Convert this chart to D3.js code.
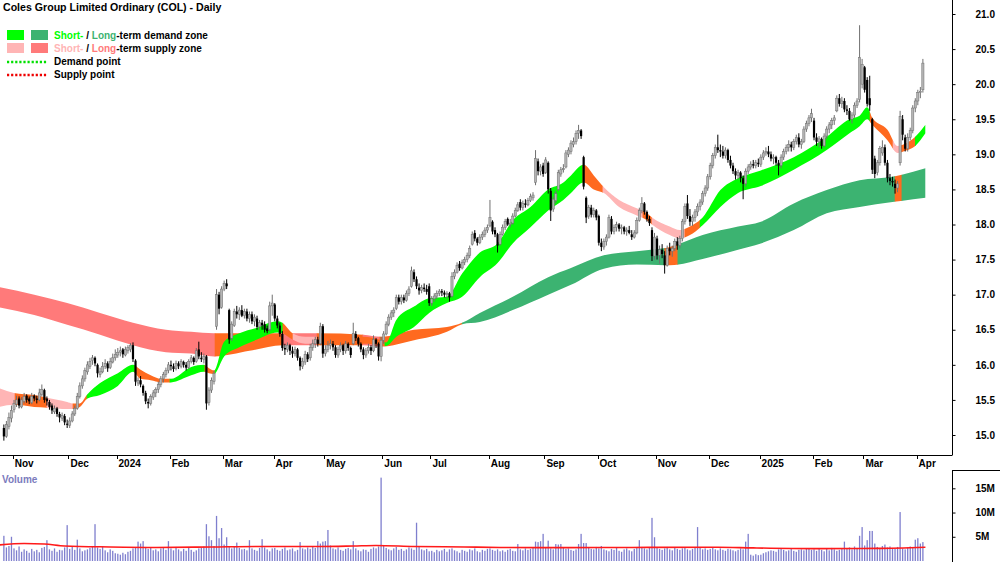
<!DOCTYPE html>
<html>
<head>
<meta charset="utf-8">
<script src="https://cdn.jsdelivr.net/npm/d3@7"></script>
<style>
  body { margin: 0; background: #fff; }
  svg { display: block; font-family: "Liberation Sans", Arial, sans-serif; }
</style>
</head>
<body>
<div id="chart"></div>
<script>
// daily bars [open, high, low, close], one list per month
var oct23 = [[15.10,15.15,14.92,14.98],[14.98,15.20,14.96,15.15],[15.12,15.32,15.08,15.25],[15.24,15.42,15.18,15.35]];
var nov23 = [[15.36,15.50,15.32,15.45],[15.44,15.56,15.40,15.50],[15.52,15.55,15.38,15.42],[15.40,15.54,15.38,15.50],[15.48,15.60,15.45,15.55],
  [15.56,15.58,15.46,15.50],[15.52,15.55,15.44,15.48],[15.46,15.60,15.44,15.55],[15.56,15.58,15.48,15.52],[15.52,15.56,15.45,15.50],
  [15.50,15.66,15.48,15.60],[15.58,15.72,15.55,15.65],[15.64,15.66,15.46,15.50],[15.52,15.55,15.42,15.48],[15.47,15.50,15.36,15.40],
  [15.42,15.45,15.30,15.35],[15.33,15.42,15.30,15.38],[15.38,15.40,15.26,15.30],[15.30,15.33,15.18,15.25],[15.24,15.32,15.20,15.28],
  [15.27,15.30,15.14,15.18],[15.16,15.22,15.10,15.15]];
var dec23 = [[15.14,15.25,15.10,15.20],[15.20,15.34,15.18,15.30],[15.30,15.42,15.27,15.38],[15.38,15.60,15.36,15.55],[15.55,15.75,15.52,15.70],
  [15.70,15.85,15.66,15.80],[15.80,15.96,15.76,15.92],[15.90,16.05,15.86,16.00],[15.98,16.10,15.94,16.05],[16.06,16.14,16.00,16.10],
  [16.10,16.12,15.98,16.02],[16.00,16.02,15.82,15.88],[15.86,15.96,15.82,15.90],[15.90,16.04,15.88,15.98],[15.98,16.08,15.94,16.02],
  [16.02,16.05,15.90,15.95],[15.96,16.10,15.94,16.05],[16.04,16.16,16.02,16.10],[16.10,16.22,16.06,16.15]];
var jan24 = [[16.14,16.24,16.10,16.18],[16.18,16.26,16.12,16.20],[16.22,16.24,16.10,16.15],[16.14,16.26,16.12,16.22],[16.20,16.28,16.16,16.25],
  [16.22,16.31,16.18,16.28],[16.28,16.32,16.04,16.08],[16.06,16.08,15.70,15.76],[15.74,15.82,15.70,15.78],[15.78,15.84,15.68,15.72],
  [15.70,15.72,15.56,15.60],[15.60,15.63,15.44,15.48],[15.47,15.52,15.38,15.45],[15.45,15.58,15.42,15.55],[15.54,15.64,15.50,15.60],
  [15.60,15.68,15.54,15.65],[15.65,15.76,15.60,15.72],[15.72,15.84,15.68,15.80],[15.80,15.90,15.75,15.86],[15.86,15.96,15.82,15.92],
  [15.92,16.04,15.88,16.00]];
var feb24 = [[16.00,16.06,15.92,15.98],[15.98,16.02,15.90,15.94],[15.95,16.06,15.92,16.02],[16.02,16.05,15.94,15.98],[15.98,16.08,15.95,16.05],
  [16.04,16.06,15.96,16.00],[16.00,16.04,15.92,15.96],[15.96,16.08,15.94,16.05],[16.05,16.14,16.02,16.10],[16.10,16.12,16.00,16.04],
  [16.05,16.24,16.03,16.20],[16.22,16.33,16.08,16.12],[16.10,16.18,16.04,16.08],[16.08,16.16,16.02,16.12],[16.12,16.14,15.36,15.45],
  [15.46,15.68,15.42,15.64],[15.64,15.82,15.60,15.78],[15.76,15.92,15.72,15.88],[16.55,17.08,16.50,17.00],[17.00,17.04,16.72,16.80],
  [16.82,17.12,16.80,17.08]];
var mar24 = [[17.08,17.20,17.05,17.16],[17.16,17.22,17.08,17.12],[16.78,16.80,16.30,16.36],[16.38,16.62,16.34,16.58],[16.56,16.80,16.54,16.76],
  [16.76,16.84,16.66,16.72],[16.72,16.82,16.64,16.78],[16.78,16.85,16.68,16.70],[16.70,16.80,16.66,16.76],[16.76,16.80,16.62,16.66],
  [16.66,16.76,16.60,16.72],[16.72,16.76,16.58,16.62],[16.62,16.72,16.55,16.68],[16.66,16.70,16.50,16.54],[16.54,16.64,16.50,16.60],
  [16.60,16.64,16.50,16.56],[16.58,16.62,16.46,16.50],[16.52,16.56,16.45,16.48],[16.50,16.90,16.48,16.84],[16.84,17.00,16.70,16.88]];
var apr24 = [[16.86,16.88,16.62,16.66],[16.66,16.70,16.52,16.56],[16.56,16.60,16.40,16.44],[16.44,16.48,16.20,16.24],[16.24,16.30,16.14,16.22],
  [16.22,16.32,16.18,16.28],[16.28,16.30,16.14,16.20],[16.20,16.26,16.10,16.16],[16.16,16.26,16.12,16.22],[16.22,16.24,16.06,16.10],
  [16.10,16.12,15.92,15.98],[15.98,16.10,15.94,16.05],[16.04,16.20,16.00,16.15],[16.15,16.18,16.04,16.08],[16.10,16.30,16.06,16.25],
  [16.25,16.36,16.20,16.30],[16.30,16.40,16.24,16.36],[16.36,16.40,16.26,16.30],[16.30,16.60,16.28,16.55],[16.55,16.58,16.10,16.16]];
var may24 = [[16.16,16.28,16.12,16.22],[16.22,16.34,16.18,16.28],[16.28,16.36,16.22,16.30],[16.30,16.34,16.20,16.25],[16.25,16.28,16.10,16.14],
  [16.14,16.26,16.10,16.22],[16.22,16.32,16.18,16.28],[16.28,16.30,16.14,16.20],[16.20,16.34,16.16,16.30],[16.30,16.32,16.20,16.24],
  [16.24,16.26,16.10,16.14],[16.30,16.60,16.28,16.45],[16.44,16.48,16.34,16.38],[16.38,16.40,16.26,16.30],[16.30,16.32,16.18,16.22],
  [16.22,16.25,16.08,16.14],[16.14,16.24,16.10,16.20],[16.20,16.30,16.16,16.25],[16.25,16.28,16.14,16.20],[16.20,16.42,16.18,16.36],
  [16.36,16.38,16.24,16.30],[16.30,16.32,16.06,16.12],[16.12,16.40,16.05,16.35]];
var jun24 = [[16.35,16.48,16.30,16.44],[16.44,16.62,16.42,16.58],[16.58,16.72,16.55,16.68],[16.68,16.78,16.64,16.74],[16.74,16.82,16.68,16.78],
  [16.80,17.00,16.78,16.96],[16.96,17.00,16.86,16.90],[16.90,17.00,16.86,16.96],[16.96,17.00,16.88,16.92],[16.92,17.06,16.90,17.02],
  [17.02,17.12,16.98,17.08],[17.12,17.40,17.10,17.34],[17.32,17.36,17.18,17.22],[17.22,17.26,17.08,17.12],[17.10,17.16,17.00,17.06],
  [17.06,17.14,17.02,17.10],[17.10,17.16,17.04,17.08],[17.08,17.14,17.00,17.04],[17.12,17.16,16.84,16.88]];
var jul24 = [[16.88,16.98,16.84,16.94],[16.94,17.02,16.90,16.98],[16.98,17.06,16.94,17.02],[17.02,17.08,16.98,17.05],[17.05,17.08,16.98,17.03],
  [17.03,17.06,16.96,17.00],[17.00,17.05,16.94,17.02],[17.02,17.04,16.90,16.96],[16.98,17.32,16.96,17.26],[17.26,17.36,17.22,17.32],
  [17.32,17.46,17.30,17.42],[17.44,17.48,17.34,17.38],[17.38,17.50,17.36,17.46],[17.46,17.54,17.42,17.50],[17.50,17.60,17.46,17.56],
  [17.56,17.70,17.52,17.66],[17.72,17.90,17.70,17.86],[17.88,17.92,17.76,17.80],[17.80,17.82,17.70,17.74],[17.74,17.86,17.72,17.82],
  [17.82,17.90,17.78,17.86],[17.86,17.96,17.82,17.92],[17.92,18.00,17.88,17.96]];
var aug24 = [[17.98,18.35,17.96,18.10],[18.04,18.06,17.86,17.90],[17.92,17.96,17.82,17.86],[17.86,17.88,17.60,17.70],[17.72,17.90,17.70,17.86],
  [17.86,18.00,17.84,17.96],[17.96,18.08,17.92,18.04],[18.08,18.10,17.98,18.00],[18.00,18.08,17.96,18.02],[18.02,18.16,18.00,18.12],
  [18.12,18.24,18.10,18.20],[18.20,18.32,18.18,18.28],[18.32,18.36,18.20,18.24],[18.24,18.34,18.20,18.30],[18.30,18.36,18.24,18.28],
  [18.28,18.38,18.26,18.34],[18.34,18.44,18.32,18.40],[18.38,18.46,18.34,18.42],[18.60,19.06,18.56,18.94],[18.90,18.94,18.70,18.76],
  [18.76,18.86,18.70,18.82],[18.84,18.88,18.68,18.72]];
var sep24 = [[18.74,18.96,18.72,18.92],[18.88,18.90,18.44,18.50],[18.48,18.52,18.05,18.20],[18.22,18.40,18.18,18.36],[18.34,18.48,18.30,18.44],
  [18.50,18.78,18.48,18.74],[18.72,18.82,18.68,18.78],[18.78,18.86,18.74,18.80],[18.82,19.06,18.80,19.02],[19.00,19.10,18.96,19.06],
  [19.04,19.20,19.00,19.16],[19.14,19.24,19.10,19.18],[19.18,19.34,19.14,19.30],[19.30,19.42,19.22,19.34],[19.34,19.36,19.22,19.26],
  [18.96,18.98,18.50,18.54],[18.38,18.40,18.02,18.10],[18.12,18.28,18.08,18.24],[18.24,18.28,18.10,18.14],[18.14,18.24,18.10,18.20],
  [18.20,18.22,18.06,18.10]];
var oct24 = [[18.12,18.14,17.70,17.74],[17.74,17.80,17.62,17.68],[17.68,17.80,17.64,17.76],[17.76,17.86,17.70,17.82],[17.82,18.14,17.80,18.10],
  [18.08,18.12,17.86,17.90],[17.90,18.00,17.86,17.96],[17.96,18.04,17.90,18.00],[18.00,18.02,17.90,17.94],[17.94,18.00,17.86,17.96],
  [17.96,17.98,17.86,17.90],[17.90,17.96,17.84,17.92],[17.92,17.98,17.86,17.88],[17.86,17.92,17.78,17.82],[17.82,17.92,17.80,17.88],
  [17.88,18.10,17.86,18.06],[18.06,18.24,18.04,18.20],[18.20,18.39,18.16,18.30],[18.30,18.32,18.14,18.18],[18.18,18.20,18.04,18.08],
  [18.08,18.12,17.98,18.02],[17.92,17.96,17.48,17.55],[17.55,17.88,17.50,17.82]];
var nov24 = [[17.80,17.84,17.50,17.56],[17.56,17.70,17.44,17.64],[17.64,17.72,17.52,17.58],[17.56,17.62,17.30,17.42],[17.42,17.70,17.40,17.66],
  [17.66,17.74,17.56,17.62],[17.62,17.70,17.54,17.66],[17.66,17.80,17.62,17.76],[17.76,17.82,17.64,17.70],[17.70,17.84,17.66,17.80],
  [17.80,18.08,17.76,18.04],[18.04,18.30,18.00,18.26],[18.30,18.42,18.08,18.12],[18.12,18.22,17.98,18.04],[18.04,18.14,17.98,18.10],
  [18.10,18.22,18.04,18.18],[18.18,18.30,18.12,18.26],[18.26,18.36,18.20,18.32],[18.32,18.48,18.28,18.44],[18.44,18.56,18.40,18.52],
  [18.52,18.72,18.48,18.68]];
var dec24 = [[18.68,18.88,18.64,18.84],[18.84,19.02,18.80,18.98],[18.98,19.14,18.94,19.10],[19.10,19.28,19.02,19.06],[19.06,19.14,18.96,19.04],
  [19.04,19.12,18.94,18.98],[18.98,19.10,18.94,19.06],[19.06,19.08,18.88,18.92],[18.92,18.98,18.80,18.84],[18.84,18.88,18.72,18.76],
  [18.76,18.80,18.64,18.70],[18.70,18.78,18.64,18.74],[18.74,18.76,18.60,18.66],[18.66,18.70,18.36,18.58],[18.58,18.80,18.54,18.76],
  [18.76,18.86,18.72,18.82],[18.82,18.90,18.78,18.86],[18.86,18.92,18.80,18.84],[18.84,18.92,18.80,18.88],[18.88,18.94,18.82,18.86]];
var jan25 = [[18.86,19.00,18.82,18.96],[18.96,19.06,18.92,19.02],[19.02,19.10,18.98,19.04],[19.04,19.12,18.96,19.00],[19.00,19.04,18.90,18.94],
  [18.94,19.00,18.86,18.96],[18.96,18.98,18.84,18.88],[18.88,18.92,18.70,18.84],[18.84,19.00,18.80,18.96],[18.96,19.08,18.92,19.04],
  [19.04,19.14,19.00,19.10],[19.10,19.20,19.04,19.14],[19.14,19.18,19.04,19.10],[19.10,19.22,19.06,19.18],[19.18,19.28,19.14,19.24],
  [19.24,19.30,19.10,19.14],[19.14,19.22,19.08,19.18],[19.18,19.40,19.16,19.36],[19.36,19.48,19.32,19.44],[19.44,19.56,19.40,19.52],
  [19.52,19.65,19.46,19.58]];
var feb25 = [[19.48,19.52,19.20,19.24],[19.24,19.30,19.12,19.18],[19.18,19.26,19.10,19.22],[19.22,19.24,19.08,19.12],[19.12,19.30,19.10,19.26],
  [19.26,19.40,19.22,19.36],[19.36,19.46,19.30,19.42],[19.42,19.52,19.36,19.48],[19.48,19.56,19.42,19.52],[19.62,19.84,19.60,19.80],
  [19.80,19.86,19.68,19.72],[19.72,19.82,19.66,19.76],[19.76,19.80,19.60,19.64],[19.64,19.70,19.56,19.62],[19.62,19.66,19.48,19.50],
  [19.50,19.60,19.44,19.56],[19.56,19.74,19.52,19.70],[19.70,19.80,19.66,19.76],[19.78,20.84,19.74,20.38],[20.00,20.36,19.94,20.28]];
var mar25 = [[20.24,20.26,19.88,19.92],[20.06,20.10,19.68,19.72],[19.80,20.12,19.62,19.70],[19.50,19.52,18.72,18.78],[18.94,18.98,18.66,18.72],
  [18.74,18.92,18.70,18.88],[18.88,19.12,18.84,19.08],[19.02,19.20,18.98,19.10],[19.10,19.14,18.84,18.88],[18.88,18.92,18.60,18.66],
  [18.66,18.72,18.56,18.62],[18.62,18.68,18.54,18.60],[18.58,18.64,18.44,18.52],[18.52,18.62,18.46,18.58],[18.88,19.62,18.84,19.54],
  [19.50,19.56,19.20,19.28],[19.24,19.28,19.04,19.08],[19.08,19.30,19.04,19.24],[19.24,19.38,19.20,19.34],[19.34,19.70,19.30,19.66],
  [19.66,19.80,19.60,19.76]];
var apr25 = [[19.76,19.92,19.70,19.88],[19.88,19.96,19.80,19.90],[19.92,20.36,19.88,20.30]];

// daily volume, millions
var volumes = [
  5.2,2.8,3.1,5.0,
  2.6,2.2,3.0,1.9,2.4,2.1,1.7,2.5,2.0,2.3,1.8,2.7,2.9,4.3,2.4,2.1,2.6,1.9,2.3,2.2,2.8,7.4,
  2.5,2.9,2.3,4.4,2.6,2.0,2.2,2.4,2.7,3.1,7.6,2.8,2.5,3.0,2.2,1.8,2.4,2.1,1.6,
  1.5,1.3,1.7,1.4,1.9,2.1,2.6,2.8,4.0,3.6,4.1,2.9,2.5,2.7,2.2,2.4,2.0,2.6,2.8,2.3,4.1,
  2.6,2.2,2.9,2.4,2.0,2.5,2.1,2.7,2.3,1.9,2.2,2.6,2.8,3.0,7.6,5.1,4.3,3.1,9.3,4.7,6.8,
  3.4,4.9,3.0,2.6,2.9,3.8,2.7,2.4,2.5,2.2,4.3,2.6,2.3,2.1,2.7,4.5,2.8,2.4,2.0,2.6,
  2.7,2.3,2.1,2.5,2.8,2.2,2.4,2.6,2.0,2.3,3.9,2.6,2.4,2.8,2.5,2.9,2.7,4.1,3.6,4.0,
  4.1,6.4,3.2,2.6,2.4,2.8,2.3,2.1,2.5,2.7,2.4,4.1,2.6,2.2,2.0,2.4,2.3,1.9,2.5,2.8,2.6,3.0,17.2,
  3.1,2.7,2.4,2.2,2.6,2.9,2.3,2.5,2.1,2.4,2.8,2.6,2.3,7.9,3.0,2.4,2.2,2.5,2.0,
  2.1,1.8,2.3,2.0,2.2,2.5,1.9,2.4,2.6,2.2,2.0,1.7,2.3,2.1,1.9,2.4,2.2,2.6,2.0,1.8,2.3,2.1,2.5,
  2.6,2.3,2.1,2.4,2.0,2.2,1.9,2.3,2.5,2.1,2.0,3.5,2.4,2.2,2.6,2.3,2.5,2.7,4.0,3.9,4.1,5.6,
  2.9,4.2,2.6,2.4,3.5,3.4,3.5,2.7,2.5,2.6,2.3,2.1,2.4,3.5,5.6,3.7,3.7,2.8,2.5,2.4,2.9,
  2.6,3.1,2.4,2.2,2.0,2.5,2.3,2.7,2.1,1.9,2.4,2.6,2.2,2.0,2.5,2.8,4.3,2.9,2.6,2.4,2.7,8.9,4.9,
  2.8,2.5,2.3,2.6,2.9,2.4,2.2,2.7,2.5,2.3,2.6,2.8,2.4,2.2,2.5,2.9,7.0,2.7,2.4,2.6,2.3,
  2.5,2.8,2.4,2.2,2.6,2.3,2.1,2.5,2.4,2.2,2.0,2.3,2.6,2.4,4.0,5.6,1.3,1.1,1.4,1.2,
  1.3,1.6,1.8,2.0,2.2,2.1,1.9,2.4,2.6,2.3,2.0,2.2,2.5,2.1,1.9,2.3,2.4,2.2,2.6,2.5,2.3,
  2.4,2.1,2.6,2.3,2.0,2.5,2.2,2.7,2.4,2.1,2.3,2.6,4.0,2.5,2.8,2.4,3.0,2.7,5.2,7.0,
  3.2,4.3,6.2,6.2,3.6,2.9,2.6,3.1,3.4,2.8,3.0,2.7,2.5,2.9,10.1,2.6,2.4,2.8,3.0,2.7,4.4,
  4.7,3.6,3.9
];

// volume moving average, read at trading-day positions
var volMaIdx = [-2, 8, 16, 24, 42, 60, 82, 100, 125, 138, 147, 162, 182, 196, 222, 248, 282, 296, 320, 345, 364];
var volMa    = [3.3, 3.6, 3.5, 3.1, 2.9, 2.8, 2.9, 3.0, 3.0, 3.1, 3.2, 3.0, 2.9, 2.8, 2.75, 2.8, 2.85, 2.7, 2.55, 2.6, 2.85];

// short-term zone edges at trading-day positions
var stIdx = [-2,4,12,17,25,27,30,33,38,45, 51,54,58,62,66,74,79,81,83,87, 93,100,108,110,114,119,124,133,142,149,
  151,155,162,168,175,181,188,195,201,208, 215,221,224,229,233,237,243,250,254,256, 263,267,271,276,283,290,299,312,325,334,
  338,341,343,349,353,356,360,364];
var stHi = [15.67,15.60,15.57,15.53,15.47,15.45,15.45,15.58,15.74,15.88, 16.00,15.93,15.85,15.80,15.80,15.97,16.00,15.95,15.92,16.33,
  16.45,16.53,16.62,16.60,16.45,16.40,16.40,16.40,16.40,16.35, 16.32,16.64,16.83,16.95,16.97,17.30,17.60,17.73,18.06,18.25,
  18.50,18.60,18.70,18.85,18.70,18.53,18.35,18.23,18.16,18.10, 17.97,17.92,17.97,18.10,18.49,18.66,18.77,18.96,19.25,19.50,
  19.55,19.67,19.52,19.35,19.12,19.15,19.25,19.42];
var stLo = [15.40,15.43,15.40,15.39,15.37,15.37,15.40,15.52,15.57,15.70, 15.90,15.80,15.78,15.75,15.75,15.85,15.90,15.88,15.87,16.12,
  16.25,16.36,16.46,16.45,16.36,16.30,16.30,16.30,16.30,16.28, 16.27,16.40,16.54,16.74,16.88,16.97,17.25,17.45,17.73,17.96,
  18.20,18.35,18.45,18.60,18.50,18.45,18.25,18.13,18.06,18.00, 17.85,17.80,17.85,17.99,18.25,18.45,18.55,18.78,19.06,19.30,
  19.40,19.50,19.42,19.20,19.02,19.05,19.12,19.30];

// long-term zone edges
var ltIdx = [-2,12,25,38,51,64,74,83,97,110, 124,142,149,162,175,181,188,201,215,224, 237,250,263,276,290,299,312,325,338,351,364];
var ltHi = [17.11,17.00,16.88,16.74,16.60,16.50,16.47,16.45,16.45,16.45, 16.45,16.43,16.40,16.50,16.54,16.60,16.74,16.97,17.25,17.38,
  17.56,17.62,17.68,17.85,17.97,18.04,18.30,18.49,18.63,18.68,18.80];
var ltLo = [16.82,16.71,16.57,16.43,16.28,16.18,16.16,16.12,16.20,16.28, 16.28,16.28,16.26,16.35,16.47,16.58,16.61,16.78,17.00,17.14,
  17.37,17.43,17.42,17.51,17.64,17.73,17.92,18.16,18.25,18.32,18.38];

// zone state by trading-day range: sd/ss short demand/supply, ld/ls long, nu neutral
var stZones = [[-2,4.4,"ss"],[4.4,17,"nu"],[17,27.3,"ss"],[27.3,32.8,"nu"],[32.8,51.8,"sd"],[51.8,65.6,"nu"],[65.6,79.4,"sd"],
  [79.4,83.4,"nu"],[83.4,110.2,"sd"],[110.2,114.2,"nu"],[114.2,123.7,"ss"],[123.7,150.5,"nu"],[150.5,228.7,"sd"],[228.7,236.6,"nu"],
  [236.6,252.4,"ss"],[252.4,256,"nu"],[256,269,"ss"],[269,275,"nu"],[275,342.1,"sd"],[342.1,351.2,"nu"],[351.2,354,"ss"],
  [354,360,"nu"],[360,364,"sd"]];
var ltZones = [[-2,83.4,"ls"],[83.4,110.2,"nu"],[110.2,123.7,"ls"],[123.7,141.8,"nu"],[141.8,148.5,"ls"],[148.5,181,"nu"],
  [181,261,"ld"],[261,266.2,"nu"],[266.2,352,"ld"],[352,354.7,"nu"],[354.7,364,"ld"]];

var startDate = "2023-10-26";
var holidays = ["2023-12-25","2023-12-26","2024-01-01","2024-01-26","2024-03-29","2024-04-01","2024-04-25",
  "2024-06-10","2024-12-25","2024-12-26","2025-01-01","2025-01-27"];
var monthLabels = ["Nov","Dec","2024","Feb","Mar","Apr","May","Jun","Jul","Aug","Sep","Oct","Nov","Dec","2025","Feb","Mar","Apr"];
var priceTicks = [15, 15.5, 16, 16.5, 17, 17.5, 18, 18.5, 19, 19.5, 20, 20.5, 21];
var volTicks = [5, 10, 15];
var volTickLabels = ["5M", "10M", "15M"];

var colors = { sd: "#00ff00", ld: "#3cb371", ss: "#ffb5b5", ls: "#ff7a7a", nu: "#ff6a1f" };

function drawChart() {
    var W = 1000, H = 562, plotW = 952, priceBottom = 455, volTop = 470;

    var candles = [].concat(oct23, nov23, dec23, jan24, feb24, mar24, apr24, may24, jun24, jul24,
        aug24, sep24, oct24, nov24, dec24, jan25, feb25, mar25, apr25);

    // trading days for the axis
    var parse = d3.timeParse("%Y-%m-%d"), fmt = d3.timeFormat("%Y-%m-%d");
    var dates = [];
    var day = parse(startDate);
    while (dates.length < candles.length) {
        var wd = day.getDay();
        if (wd !== 0 && wd !== 6 && holidays.indexOf(fmt(day)) < 0) dates.push(day);
        day = d3.timeDay.offset(day, 1);
    }
    var monthStarts = [];
    for (var i = 1; i < dates.length; i++) {
        if (dates[i].getMonth() !== dates[i - 1].getMonth()) monthStarts.push(i);
    }

    var svg = d3.select("#chart").append("svg")
        .attr("width", W)
        .attr("height", H);

    var x = d3.scaleLinear().domain([-1.53, 374.5]).range([0, plotW]);
    var y = d3.scaleLinear().domain([15, 21]).range([435, 14]);
    var yv = d3.scaleLinear().domain([0, 15]).range([561, 488.3]);

    var defs = svg.append("defs");
    defs.append("clipPath").attr("id", "priceClip").append("rect")
        .attr("x", 0).attr("y", 0).attr("width", plotW).attr("height", priceBottom);

    var pg = svg.append("g").attr("clip-path", "url(#priceClip)");

    function drawBand(idx, hi, lo, zones, name) {
        var pts = idx.map(function(d, k) { return { i: d, hi: hi[k], lo: lo[k] }; });
        var area = d3.area()
            .curve(d3.curveMonotoneX)
            .x(function(d) { return x(d.i); })
            .y0(function(d) { return y(d.lo); })
            .y1(function(d) { return y(d.hi); });
        var g = pg.append("g");
        zones.forEach(function(z, k) {
            var id = name + k;
            defs.append("clipPath").attr("id", id).append("rect")
                .attr("x", x(z[0]) - 0.3)
                .attr("y", 0)
                .attr("width", x(z[1]) - x(z[0]) + 0.6)
                .attr("height", priceBottom);
            g.append("path")
                .attr("d", area(pts))
                .attr("fill", colors[z[2]])
                .attr("clip-path", "url(#" + id + ")");
        });
    }

    drawBand(ltIdx, ltHi, ltLo, ltZones, "lt");
    drawBand(stIdx, stHi, stLo, stZones, "st");

    // candles
    var bw = 2.2;
    function up(d) { return d[3] >= d[0]; }
    pg.append("g").selectAll("line")
        .data(candles)
        .enter()
        .append("line")
        .attr("x1", function(d, i) { return x(i); })
        .attr("x2", function(d, i) { return x(i); })
        .attr("y1", function(d) { return y(d[1]); })
        .attr("y2", function(d) { return y(d[2]); })
        .attr("stroke", function(d) { return up(d) ? "#707070" : "#000"; })
        .attr("stroke-width", 1);
    pg.append("g").selectAll("rect")
        .data(candles)
        .enter()
        .append("rect")
        .attr("x", function(d, i) { return x(i) - bw / 2; })
        .attr("y", function(d) { return y(Math.max(d[0], d[3])); })
        .attr("width", bw)
        .attr("height", function(d) { return Math.max(1, Math.abs(y(d[0]) - y(d[3]))); })
        .attr("fill", function(d) { return up(d) ? "#b4b4b4" : "#000"; })
        .attr("stroke", function(d) { return up(d) ? "#6e6e6e" : "none"; })
        .attr("stroke-width", 0.5);

    // price axis
    svg.append("line")
        .attr("x1", plotW + 0.5).attr("x2", plotW + 0.5)
        .attr("y1", 0).attr("y2", priceBottom)
        .attr("stroke", "#000");
    var yAxis = d3.axisRight(y)
        .tickValues(priceTicks)
        .tickFormat(d3.format(".1f"))
        .tickSize(3)
        .tickPadding(20);
    svg.append("g")
        .attr("transform", "translate(" + (plotW + 0.5) + ",0)")
        .call(yAxis)
        .call(function(g) { g.select(".domain").remove(); })
        .selectAll("text")
        .attr("font-family", "Liberation Sans, Arial, sans-serif")
        .attr("font-size", 10)
        .attr("font-weight", "bold")
        .attr("fill", "#000");

    // time axis strip
    svg.append("line")
        .attr("x1", 0).attr("x2", plotW + 0.5)
        .attr("y1", priceBottom + 0.5).attr("y2", priceBottom + 0.5)
        .attr("stroke", "#000");
    var tg = svg.append("g");
    tg.selectAll("line")
        .data(monthStarts)
        .enter()
        .append("line")
        .attr("x1", function(d) { return Math.round(x(d - 0.5)) + 0.5; })
        .attr("x2", function(d) { return Math.round(x(d - 0.5)) + 0.5; })
        .attr("y1", priceBottom)
        .attr("y2", priceBottom + 4)
        .attr("stroke", "#000");
    tg.selectAll("text")
        .data(monthStarts)
        .enter()
        .append("text")
        .attr("x", function(d) { return x(d - 0.5) + 2; })
        .attr("y", 467)
        .attr("font-size", 10)
        .attr("font-weight", "bold")
        .text(function(d, k) { return monthLabels[k]; });

    // volume panel
    svg.append("line")
        .attr("x1", plotW + 0.5).attr("x2", W)
        .attr("y1", volTop + 0.5).attr("y2", volTop + 0.5)
        .attr("stroke", "#000");
    svg.append("line")
        .attr("x1", plotW + 0.5).attr("x2", plotW + 0.5)
        .attr("y1", volTop).attr("y2", H)
        .attr("stroke", "#000");

    var vg = svg.append("g");
    vg.selectAll("rect")
        .data(volumes)
        .enter()
        .append("rect")
        .attr("x", function(d, i) { return x(i) - 0.65; })
        .attr("y", function(d) { return yv(d); })
        .attr("width", 1.3)
        .attr("height", function(d) { return yv(0) - yv(d); })
        .attr("fill", "#7f7fce");

    var maLine = d3.line()
        .curve(d3.curveMonotoneX)
        .x(function(d) { return x(d[0]); })
        .y(function(d) { return yv(d[1]); });
    vg.append("path")
        .datum(volMaIdx.map(function(d, k) { return [d, volMa[k]]; }))
        .attr("d", maLine)
        .attr("fill", "none")
        .attr("stroke", "#ff1a1a")
        .attr("stroke-width", 1.6);

    var vAxis = d3.axisRight(yv)
        .tickValues(volTicks)
        .tickFormat(function(d, k) { return volTickLabels[k]; })
        .tickSize(3)
        .tickPadding(20);
    svg.append("g")
        .attr("transform", "translate(" + (plotW + 0.5) + ",0)")
        .call(vAxis)
        .call(function(g) { g.select(".domain").remove(); })
        .selectAll("text")
        .attr("font-family", "Liberation Sans, Arial, sans-serif")
        .attr("font-size", 10)
        .attr("font-weight", "bold")
        .attr("fill", "#000");

    svg.append("text")
        .attr("x", 2).attr("y", 483)
        .attr("font-size", 10)
        .attr("font-weight", "bold")
        .attr("fill", "#7b7bbd")
        .text("Volume");

    // title and legend
    svg.append("text")
        .attr("x", 3).attr("y", 11)
        .attr("font-size", 10.6)
        .attr("font-weight", "bold")
        .text("Coles Group Limited Ordinary (COL) - Daily");

    var lg = svg.append("g");
    lg.append("rect").attr("x", 7).attr("y", 30).attr("width", 17).attr("height", 10).attr("fill", colors.sd);
    lg.append("rect").attr("x", 31).attr("y", 30).attr("width", 17).attr("height", 10).attr("fill", colors.ld);
    lg.append("rect").attr("x", 7).attr("y", 43).attr("width", 17).attr("height", 10).attr("fill", colors.ss);
    lg.append("rect").attr("x", 31).attr("y", 43).attr("width", 17).attr("height", 10).attr("fill", colors.ls);
    lg.append("line").attr("x1", 7).attr("x2", 48).attr("y1", 62).attr("y2", 62)
        .attr("stroke", "#00e000").attr("stroke-width", 2.5).attr("stroke-dasharray", "2.2,1.9");
    lg.append("line").attr("x1", 7).attr("x2", 48).attr("y1", 75).attr("y2", 75)
        .attr("stroke", "#ee0000").attr("stroke-width", 2.5).attr("stroke-dasharray", "2.2,1.9");

    var rows = [
        [["Short-", colors.sd], [" / ", "#000"], ["Long", colors.ld], ["-term demand zone", "#000"]],
        [["Short-", colors.ss], [" / ", "#000"], ["Long", colors.ls], ["-term supply zone", "#000"]],
        [["Demand point", "#000"]],
        [["Supply point", "#000"]]
    ];
    var rowY = [39, 52, 65, 78];
    rows.forEach(function(r, k) {
        var t = lg.append("text")
            .attr("x", 54).attr("y", rowY[k])
            .attr("font-size", 10)
            .attr("font-weight", "bold");
        r.forEach(function(p) {
            t.append("tspan").attr("fill", p[1]).text(p[0]);
        });
    });
}

drawChart();
</script>
</body>
</html>
